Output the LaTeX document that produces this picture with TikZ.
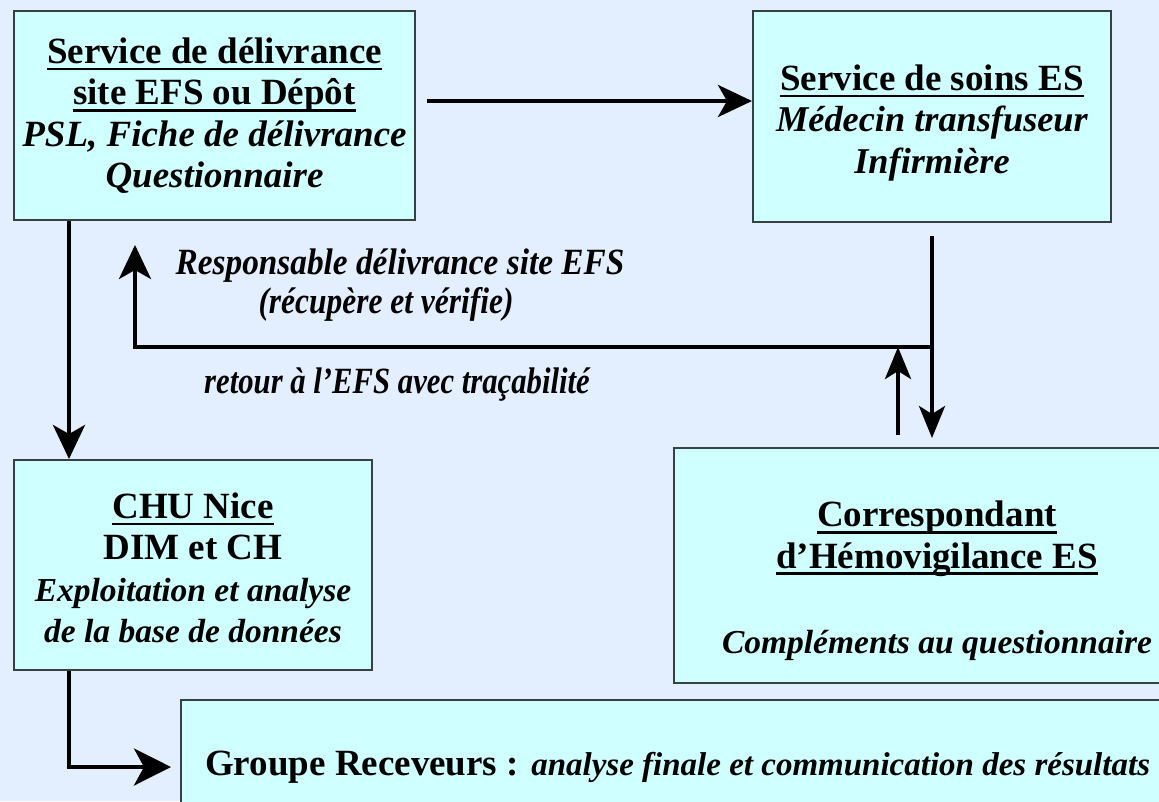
\documentclass[tikz,border=0pt]{standalone}
\usepackage{fontspec}
\usepackage{graphicx}
\setmainfont{Liberation Serif}
\usetikzlibrary{arrows.meta}
\definecolor{bg}{RGB}{227,238,254}
\definecolor{boxfill}{RGB}{208,255,255}
\definecolor{edge}{RGB}{55,65,65}
\newcommand{\uln}[1]{\leavevmode\setbox0\hbox{#1}\rlap{\rule[-7pt]{\wd0}{2.6pt}}\box0}
\newcommand{\bi}[2][33.5]{{\fontsize{#1}{41.5}\selectfont\itshape #2}}
\begin{document}
\begin{tikzpicture}[x=1pt,y=-1pt,
  box/.style={draw=edge,line width=2pt,fill=boxfill,rectangle,inner sep=0pt},
  txt/.style={font=\fontsize{37}{41.5}\selectfont\bfseries,align=center,inner sep=0pt},
  lbl/.style={font=\fontsize{37}{41}\selectfont\bfseries\itshape,inner sep=0pt,anchor=base},
  arr/.style={line width=4pt,-{Stealth[length=34pt,width=32pt,inset=9pt]}},
  arrb/.style={line width=4pt,-{Stealth[length=37pt,width=37pt,inset=10pt]}},
  arrs/.style={line width=4pt,-{Stealth[length=32pt,width=26pt,inset=8pt]}}]
\fill[bg] (0,0) rectangle (1159,801);
\useasboundingbox (0,0) rectangle (1159,801);
% boxes
\node[box,minimum width=401pt,minimum height=209pt] (b1) at (214.5,115.5) {};
\node[box,minimum width=358pt,minimum height=211pt] (b2) at (932,116.5) {};
\node[box,minimum width=358pt,minimum height=210pt] (b3) at (193,565) {};
\node[box,minimum width=526pt,minimum height=235pt] (b4) at (937,565.5) {};
\node[box,minimum width=1009pt,minimum height=134pt] (b5) at (685.5,767) {};
% box texts
\node[txt] (t1) at (214.5,115.5) {\uln{Service de délivrance}\\ \uln{site EFS ou Dépôt}\\ \bi[37]{PSL, Fiche de délivrance}\\ \bi[37]{Questionnaire}};
\node[txt] (t2) at (932,123) {\uln{Service de soins ES}\\ \bi[36.3]{Médecin transfuseur}\\ \bi[36.3]{Infirmière}};
\node[txt] (t3) at (193,568) {\uln{CHU Nice}\\ DIM et CH\\ \bi{Exploitation et analyse}\\ \bi{de la base de données}};
\node[txt] (t4) at (937,538.5) {\uln{Correspondant}\\ \uln{d’Hémovigilance ES}};
\node[txt] (t4b) at (937,645) {\bi{Compléments au questionnaire}};
\node[anchor=west,inner sep=0pt,font=\fontsize{37}{41.5}\selectfont\bfseries] (t5) at (205,767) {Groupe Receveurs : \bi[33]{analyse finale et communication des résultats}};
% labels
\node[lbl] (l1) at (400,274) {\scalebox{0.9}[1]{Responsable délivrance site EFS}};
\node[lbl] (l2) at (386,313) {\scalebox{0.85}[1]{(récupère et vérifie)}};
\node[lbl] (l3) at (397,393) {\scalebox{0.83}[1]{retour à l’EFS avec traçabilité}};
% connectors
\coordinate (a1) at (427,101);
\coordinate (x1) at (69,0);
\coordinate (s2) at (932,236);
\coordinate (e2) at (932,438);
\coordinate (j) at (932,347);
\coordinate (k) at (135,347);
\coordinate (ke) at (135,245);
\coordinate (u1) at (898,435);
\coordinate (u2) at (898,347);
\coordinate (c1) at (69,767);
\coordinate (c2) at (171,767);
\draw[arr] (a1) -- (b2.west |- a1);
\draw[arr] (b1.south -| x1) -- (b3.north -| x1);
\draw[arrs] (s2) -- (e2);
\draw[arr] (j) -- (k) -- (ke);
\draw[arrs] (u1) -- (u2);
\draw[arrb] (b3.south -| x1) -- (c1) -- (c2);
\end{tikzpicture}
\end{document}
